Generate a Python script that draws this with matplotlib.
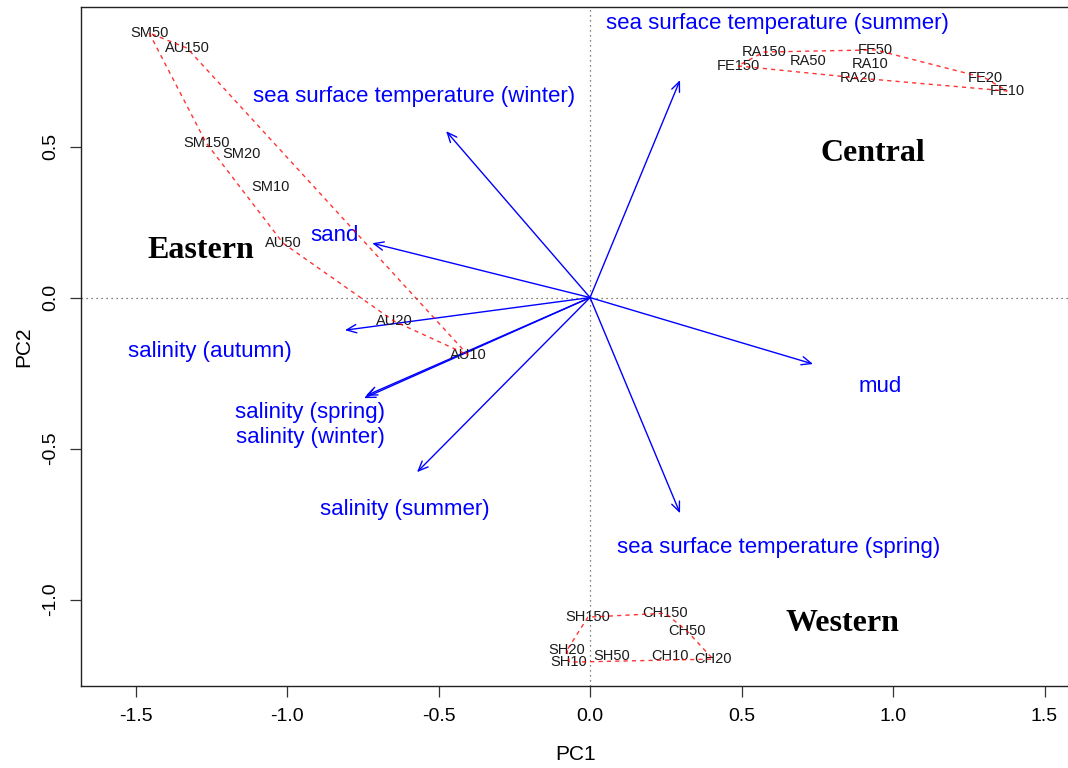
import numpy as np
import matplotlib
matplotlib.use("Agg")
import matplotlib.pyplot as plt

# --- Site scores (PC1, PC2) by region ---
eastern_sites = ["SM50", "AU150", "SM150", "SM20", "SM10", "AU50", "AU20", "AU10"]
eastern_pc1 = [-1.455, -1.330, -1.267, -1.149, -1.053, -1.013, -0.647, -0.403]
eastern_pc2 = [0.876, 0.826, 0.512, 0.475, 0.366, 0.180, -0.078, -0.190]

central_sites = ["RA150", "FE50", "RA50", "RA10", "FE150", "RA20", "FE20", "FE10"]
central_pc1 = [0.574, 0.941, 0.719, 0.924, 0.488, 0.884, 1.304, 1.376]
central_pc2 = [0.813, 0.820, 0.783, 0.774, 0.767, 0.727, 0.727, 0.684]

western_sites = ["SH150", "CH150", "CH50", "SH20", "SH10", "SH50", "CH10", "CH20"]
western_pc1 = [-0.007, 0.248, 0.320, -0.076, -0.069, 0.073, 0.264, 0.406]
western_pc2 = [-1.058, -1.045, -1.104, -1.167, -1.207, -1.187, -1.187, -1.197]

# --- Environmental variable loadings (arrow tips) ---
variables = ["sea surface temperature (summer)", "sea surface temperature (winter)",
             "sand", "salinity (autumn)", "salinity (spring)", "salinity (winter)",
             "salinity (summer)", "mud", "sea surface temperature (spring)"]
load_pc1 = [0.297, -0.475, -0.719, -0.809, -0.746, -0.740, -0.571, 0.736, 0.297]
load_pc2 = [0.720, 0.551, 0.180, -0.108, -0.333, -0.325, -0.578, -0.220, -0.714]

# label positions for the variable names
var_lab_x = [0.617, -0.581, -0.842, -1.254, -0.924, -0.924, -0.611, 0.957, 0.624]
var_lab_y = [0.909, 0.667, 0.204, -0.177, -0.379, -0.462, -0.700, -0.293, -0.826]

regions = ["Eastern", "Central", "Western"]
region_x = [-1.284, 0.934, 0.832]
region_y = [0.157, 0.478, -1.078]


def convex_hull(x, y):
    """Monotone chain hull, returns closed list of indices."""
    pts = sorted(range(len(x)), key=lambda i: (x[i], y[i]))

    def cross(o, a, b):
        return (x[a] - x[o]) * (y[b] - y[o]) - (y[a] - y[o]) * (x[b] - x[o])

    lower, upper = [], []
    for i in pts:
        while len(lower) >= 2 and cross(lower[-2], lower[-1], i) <= 0:
            lower.pop()
        lower.append(i)
    for i in reversed(pts):
        while len(upper) >= 2 and cross(upper[-2], upper[-1], i) <= 0:
            upper.pop()
        upper.append(i)
    hull = lower[:-1] + upper[:-1]
    return hull + [hull[0]]


plt.rcParams["font.family"] = ["Liberation Sans", "DejaVu Sans"]
plt.rcParams["axes.unicode_minus"] = False

fig = plt.figure(figsize=(10.68, 7.68), dpi=100)
ax = fig.add_axes([81 / 1068, 82 / 768, 989 / 1068, 679 / 768])

ax.set_xlim(-1.680, 1.584)
ax.set_ylim(-1.286, 0.962)

# reference lines through the origin
ax.axhline(0, color="#555555", lw=0.9, ls=(0, (1, 3)), zorder=1)
ax.axvline(0, color="#555555", lw=0.9, ls=(0, (1, 3)), zorder=1)

# site labels and hulls
for names, px, py in [(eastern_sites, eastern_pc1, eastern_pc2),
                      (central_sites, central_pc1, central_pc2),
                      (western_sites, western_pc1, western_pc2)]:
    for n, a, b in zip(names, px, py):
        ax.text(a, b, n, ha="center", va="center", fontsize=10.5,
                color="#1a1a1a", zorder=3)
    idx = convex_hull(px, py)
    ax.plot([px[i] for i in idx], [py[i] for i in idx], color="red",
            lw=1.0, ls=(0, (3, 3)), alpha=0.8, zorder=4)

# loading arrows
for a, b in zip(load_pc1, load_pc2):
    ax.annotate("", xy=(a, b), xytext=(0, 0),
                arrowprops=dict(arrowstyle="->,head_length=0.7,head_width=0.3",
                                color="blue", lw=1.0, shrinkA=0, shrinkB=0),
                zorder=2)
for v, a, b in zip(variables, var_lab_x, var_lab_y):
    ax.text(a, b, v, ha="center", va="center", fontsize=16, color="blue", zorder=3)

for r, a, b in zip(regions, region_x, region_y):
    ax.text(a, b, r, ha="center", va="center", fontsize=23, fontweight="bold",
            family="Liberation Serif", color="black", zorder=3)

ax.set_xticks([-1.5, -1.0, -0.5, 0.0, 0.5, 1.0, 1.5])
ax.set_yticks([-1.0, -0.5, 0.0, 0.5])
ax.set_xticklabels(["-1.5", "-1.0", "-0.5", "0.0", "0.5", "1.0", "1.5"])
ax.set_yticklabels(["-1.0", "-0.5", "0.0", "0.5"], rotation=90, va="center")
ax.tick_params(labelsize=14, length=8, width=0.9, color="#333333", pad=8)

ax.set_xlabel("PC1", fontsize=15, labelpad=14)
ax.set_ylabel("PC2", fontsize=15, labelpad=6)
for s in ax.spines.values():
    s.set_linewidth(1.0)
    s.set_color("#222222")

fig.savefig("out.png", dpi=100)
